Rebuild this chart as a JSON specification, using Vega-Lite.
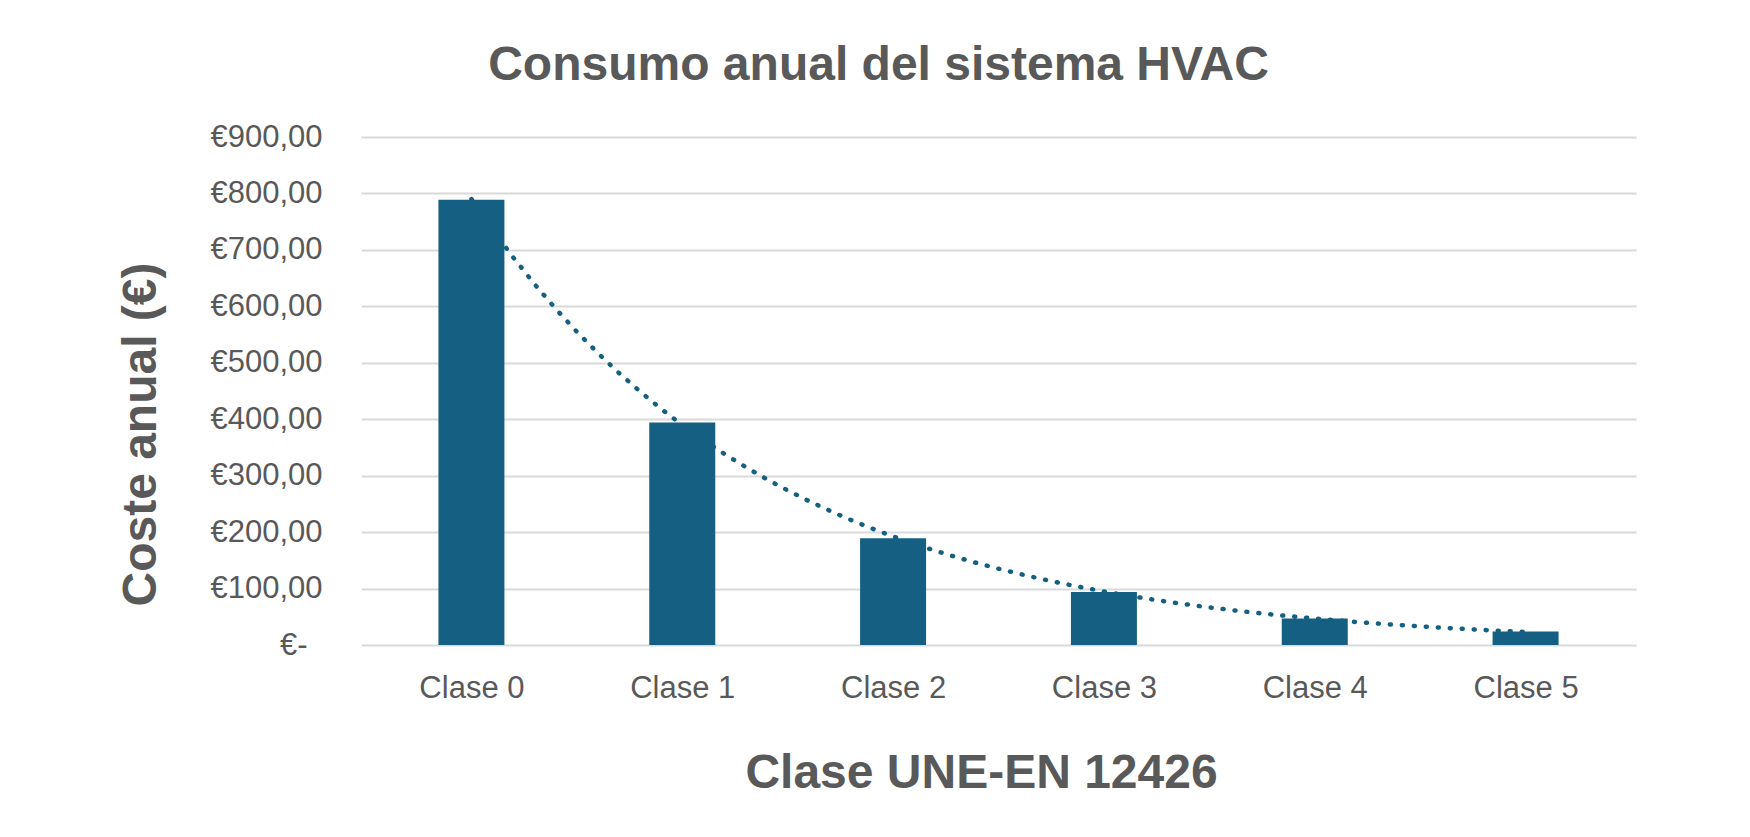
{
  "$schema": "https://vega.github.io/schema/vega-lite/v6.json",
  "width": 1275,
  "height": 508,
  "autosize": {"type": "none"},
  "padding": {"left": 361, "top": 137, "right": 114, "bottom": 192},
  "background": "white",
  "title": {
    "text": "Consumo anual del sistema HVAC",
    "fontSize": 48,
    "fontWeight": "bold",
    "color": "#595959",
    "font": "Liberation Sans",
    "anchor": "middle",
    "frame": "group",
    "baseline": "alphabetic",
    "dx": -120,
    "offset": -7
  },
  "data": {
    "values": [
      {"clase": "Clase 0", "idx": 0, "cost": 789},
      {"clase": "Clase 1", "idx": 1, "cost": 394},
      {"clase": "Clase 2", "idx": 2, "cost": 189},
      {"clase": "Clase 3", "idx": 3, "cost": 94},
      {"clase": "Clase 4", "idx": 4, "cost": 47},
      {"clase": "Clase 5", "idx": 5, "cost": 24}
    ]
  },
  "encoding": {
    "x": {
      "field": "idx",
      "type": "quantitative",
      "scale": {"domain": [-0.5, 5.5], "nice": false, "zero": false},
      "axis": {
        "title": "Clase UNE-EN 12426",
        "values": [0, 1, 2, 3, 4, 5],
        "labelExpr": "'Clase ' + datum.value",
        "grid": false,
        "domain": false,
        "ticks": false,
        "tickSize": 0,
        "labelFontSize": 31,
        "labelColor": "#595959",
        "labelPadding": 52,
        "labelBaseline": "alphabetic",
        "titleFontSize": 48,
        "titleFontWeight": "bold",
        "titleColor": "#595959",
        "titleX": 620,
        "titleY": 142,
        "titleAlign": "center",
        "titleBaseline": "alphabetic"
      }
    },
    "y": {
      "field": "cost",
      "type": "quantitative",
      "scale": {"domain": [0, 900], "nice": false},
      "axis": {
        "title": "Coste anual (€)",
        "values": [0, 100, 200, 300, 400, 500, 600, 700, 800, 900],
        "labelExpr": "datum.value == 0 ? '€-\u00a0\u2009\u200b' : '€' + datum.value + ',00'",
        "grid": true,
        "gridColor": "#d9d9d9",
        "gridWidth": 2,
        "domain": false,
        "ticks": false,
        "tickSize": 0,
        "labelFontSize": 31,
        "labelColor": "#595959",
        "labelPadding": 39,
        "titleFontSize": 48,
        "titleFontWeight": "bold",
        "titleColor": "#595959",
        "titleAngle": 270,
        "titleX": -206,
        "titleY": 297,
        "titleAlign": "center",
        "titleBaseline": "alphabetic"
      }
    }
  },
  "layer": [
    {
      "mark": {"type": "bar", "width": 66, "color": "#156082"}
    },
    {
      "transform": [{"regression": "cost", "on": "idx", "method": "exp"}],
      "mark": {
        "type": "line",
        "color": "#156082",
        "strokeWidth": 4.5,
        "strokeCap": "round",
        "strokeDash": [1, 11]
      }
    }
  ],
  "config": {
    "font": "Liberation Sans",
    "view": {"stroke": null}
  }
}
